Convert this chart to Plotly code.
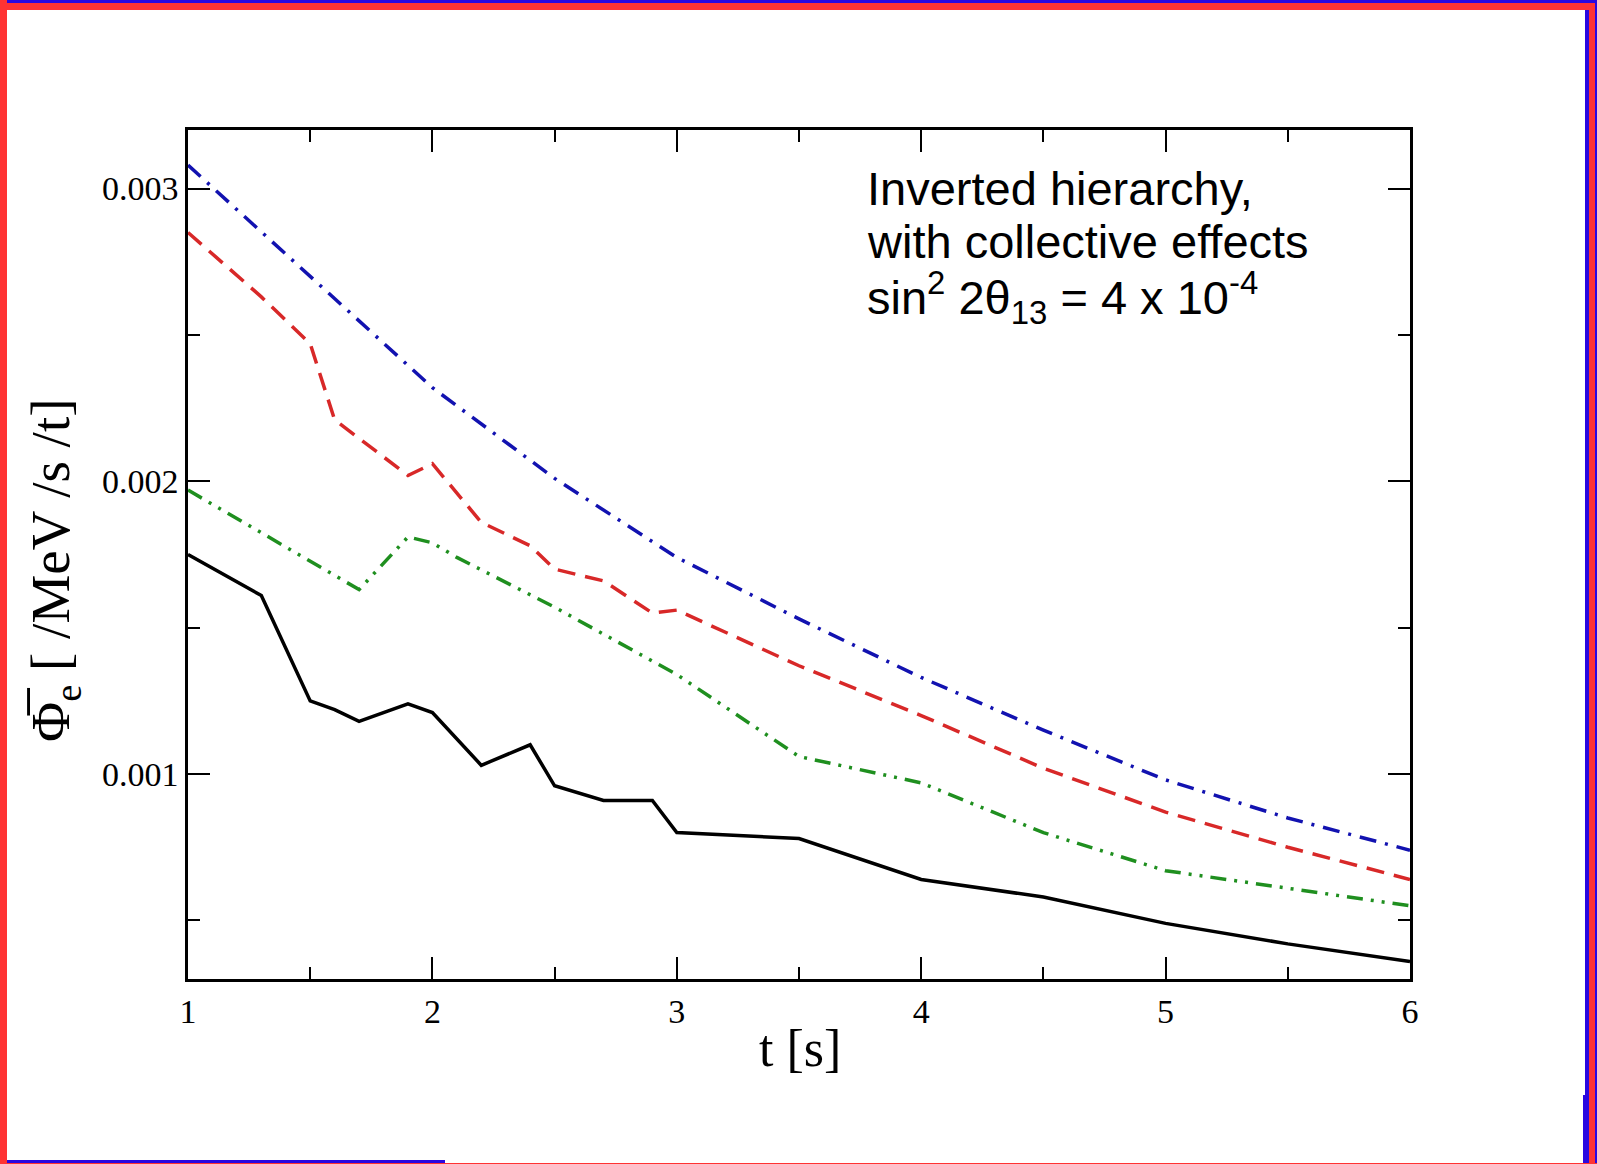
import plotly.graph_objects as go

# ---- data -------------------------------------------------------------
t_upper = [1.0, 1.5, 2.0, 2.5, 3.0, 3.5, 4.0, 4.5, 5.0, 5.5, 6.0]
flux_upper = [0.00308, 0.00270, 0.00232, 0.00201, 0.00174, 0.00153,
              0.00133, 0.00115, 0.00098, 0.00085, 0.00074]

t_dashed = [1.0, 1.3, 1.5, 1.6, 1.9, 2.0, 2.2, 2.4, 2.5, 2.7, 2.9, 3.0,
            3.5, 4.0, 4.5, 5.0, 5.5, 6.0]
flux_dashed = [0.00285, 0.00263, 0.00247, 0.00221, 0.00202, 0.00206,
               0.00186, 0.00178, 0.00170, 0.00166, 0.00155, 0.00156,
               0.00137, 0.00120, 0.00102, 0.00087, 0.00075, 0.00064]

t_dotdash = [1.0, 1.7, 1.9, 2.0, 2.1, 2.5, 3.0, 3.5, 4.0, 4.5, 5.0, 5.5, 6.0]
flux_dotdash = [0.00197, 0.00163, 0.00181, 0.00179, 0.00174, 0.00157,
                0.00134, 0.00106, 0.00097, 0.00080, 0.00067, 0.00061,
                0.00055]

t_solid = [1.0, 1.3, 1.5, 1.6, 1.7, 1.9, 2.0, 2.2, 2.4, 2.5, 2.7, 2.9, 3.0,
           3.5, 4.0, 4.5, 5.0, 5.5, 6.0]
flux_solid = [0.00175, 0.00161, 0.00125, 0.00122, 0.00118, 0.00124,
              0.00121, 0.00103, 0.00110, 0.00096, 0.00091, 0.00091,
              0.00080, 0.00078, 0.00064, 0.00058, 0.00049, 0.00042,
              0.00036]

x_ticks = [1, 2, 3, 4, 5, 6]
y_ticks = [0.001, 0.002, 0.003]
y_tick_text = ["0.001", "0.002", "0.003"]

# ---- page geometry ----------------------------------------------------
W, H = 1597, 1164
ML, MR, MT, MB = 188, 187, 130, 185
PW, PH = W - ML - MR, H - MT - MB


def px(xp):
    return (xp - ML) / PW


def py(yp):
    return (H - MB - yp) / PH


SERIF = "Liberation Serif, Times New Roman, serif"
SANS = "Liberation Sans, Arial, sans-serif"

fig = go.Figure()

fig.add_trace(go.Scatter(x=t_upper, y=flux_upper, mode="lines",
                         line=dict(color="#1212b0", width=3.5,
                                   dash="17px,9px,3px,9px")))
fig.add_trace(go.Scatter(x=t_dashed, y=flux_dashed, mode="lines",
                         line=dict(color="#d82828", width=3.5,
                                   dash="18px,10px")))
fig.add_trace(go.Scatter(x=t_dotdash, y=flux_dotdash, mode="lines",
                         line=dict(color="#1f8f1f", width=3.5,
                                   dash="16px,8px,3px,8px,3px,8px")))
fig.add_trace(go.Scatter(x=t_solid, y=flux_solid, mode="lines",
                         line=dict(color="black", width=3.5)))

axis_common = dict(
    showline=True, linecolor="black", linewidth=2.5, mirror="ticks",
    ticks="inside", ticklen=22, tickwidth=2, tickcolor="black",
    showgrid=False, zeroline=False,
    tickfont=dict(family=SERIF, size=34, color="black"),
)

fig.update_xaxes(range=[1, 6], tickvals=x_ticks,
                 ticktext=[str(v) for v in x_ticks],
                 minor=dict(dtick=0.5, tick0=1, ticks="inside", ticklen=12,
                            tickwidth=2, tickcolor="black", showgrid=False),
                 **axis_common)
fig.update_yaxes(range=[0.0003, 0.0032], tickvals=y_ticks,
                 ticktext=y_tick_text,
                 minor=dict(dtick=0.0005, tick0=0, ticks="inside", ticklen=12,
                            tickwidth=2, tickcolor="black", showgrid=False),
                 **axis_common)

annotations = [
    # axis titles
    dict(text="t [s]", x=px(800), y=py(1048), xref="paper", yref="paper",
         xanchor="center", yanchor="middle", showarrow=False,
         font=dict(family=SERIF, size=52, color="black")),
    dict(text="\u03a6\u0305<sub>e</sub> [ /MeV /s /t]", x=px(54), y=py(570),
         xref="paper", yref="paper", xanchor="center", yanchor="middle",
         textangle=-90, showarrow=False,
         font=dict(family=SERIF, size=55, color="black")),
    # label block inside the frame
    dict(text="Inverted hierarchy,", x=px(865), y=py(188), xref="paper",
         yref="paper", xanchor="left", yanchor="middle", showarrow=False,
         font=dict(family=SANS, size=47, color="black")),
    dict(text="with collective effects", x=px(865), y=py(241), xref="paper",
         yref="paper", xanchor="left", yanchor="middle", showarrow=False,
         font=dict(family=SANS, size=47, color="black")),
    dict(text="sin<sup>2</sup> 2\u03b8<sub>13</sub> = 4 x 10<sup>-4</sup>",
         x=px(865), y=py(297), xref="paper", yref="paper", xanchor="left",
         yanchor="middle", showarrow=False,
         font=dict(family=SANS, size=47, color="black")),
]

# slide frame around the figure
RED = "#ff3333"
BLUE = "#2a08e0"
frame = [
    (0, 0, W, 3, BLUE),
    (0, 3, 1589, 10, RED),
    (0, 0, 7, H, RED),
    (1589, 3, 1595, H, RED),
    (1595, 0, W, H, BLUE),
    (1585, 10, 1589, 1095, BLUE),
    (1583, 1095, 1589, H, BLUE),
    (7, 1160, 445, 1163, BLUE),
    (0, 1163, W, H, RED),
]
shapes = [dict(type="rect", xref="paper", yref="paper",
               x0=px(a), x1=px(c), y0=py(d), y1=py(b),
               fillcolor=col, line=dict(width=0), layer="above")
          for a, b, c, d, col in frame]

fig.update_layout(
    width=W, height=H, autosize=False,
    margin=dict(l=ML, r=MR, t=MT, b=MB, pad=0),
    paper_bgcolor="white", plot_bgcolor="white",
    showlegend=False,
    annotations=annotations,
    shapes=shapes,
)

fig.write_html("out.html", config={"displayModeBar": False})
